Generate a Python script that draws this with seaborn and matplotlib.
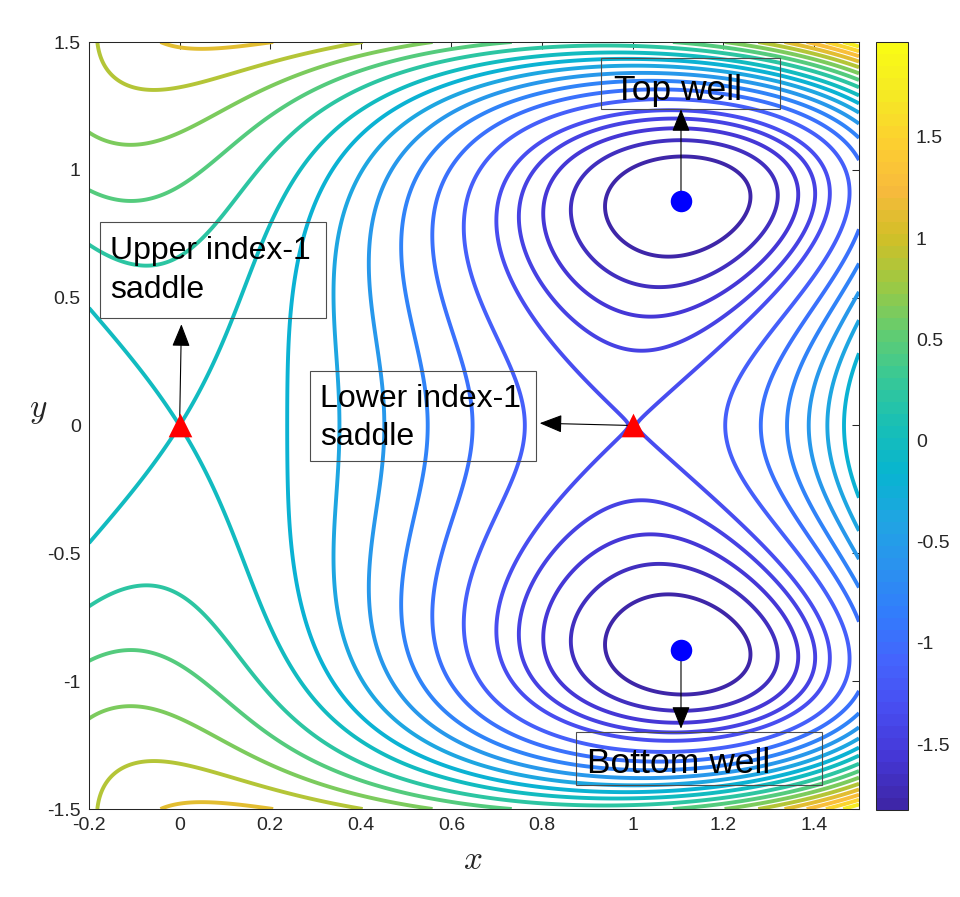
import numpy as np
import matplotlib
matplotlib.use("Agg")
import matplotlib.pyplot as plt
import seaborn as sns
from matplotlib.colors import LinearSegmentedColormap, Normalize
from matplotlib.cm import ScalarMappable
from matplotlib.patches import Rectangle
from matplotlib.ticker import FuncFormatter


# contour levels: finer spacing inside the wells,
# coarser between the saddles and above the upper saddle energy
WELL_LEVELS = [-1.825, -1.702, -1.579, -1.456]
MID_LEVELS = [-1.333, -1.143, -0.952, -0.762, -0.571, -0.381, -0.190]
HIGH_LEVELS = [0.0, 0.219, 0.438, 0.656, 0.875, 1.094, 1.313, 1.531, 1.750]

# critical points of the surface
SADDLE_X = [0.0, 1.0]
SADDLE_Y = [0.0, 0.0]
WELL_X = [1.107, 1.107]
WELL_Y = [0.879, -0.879]

X_TICKS = [-0.2, 0, 0.2, 0.4, 0.6, 0.8, 1, 1.2, 1.4]
Y_TICKS = [-1.5, -1, -0.5, 0, 0.5, 1, 1.5]
CBAR_TICKS = [-1.5, -1, -0.5, 0, 0.5, 1, 1.5]
CBAR_LIMITS = (-1.826, 1.969)

# parula (MATLAB) anchor colours, every 4th entry of the 64-colour table
PARULA = [
    (0.2422, 0.1504, 0.6603), (0.2706, 0.2147, 0.8364), (0.2813, 0.3006, 0.9414),
    (0.2699, 0.3892, 0.9906), (0.1963, 0.4847, 0.9892), (0.1687, 0.5703, 0.9359),
    (0.1248, 0.6459, 0.8883), (0.0297, 0.7082, 0.8163), (0.0964, 0.7500, 0.7120),
    (0.2161, 0.7843, 0.5923), (0.3909, 0.8029, 0.4354), (0.6174, 0.7876, 0.2612),
    (0.8203, 0.7498, 0.1535), (0.9728, 0.7298, 0.2394), (0.9892, 0.8136, 0.1885),
    (0.9597, 0.9135, 0.1423), (0.9769, 0.9839, 0.0805),
]

W, H = 960, 897


def potential(x, y):
    return 8 * x**3 / 3 - 4 * x**2 + y**2 / 2 + x * y**2 * (y**2 - 2)


def fig_xy(px, py):
    return px / W, 1 - py / H


def add_box(fig, left, top, right, bottom, lines, baselines, text_left, size):
    x0, y0 = fig_xy(left, bottom)
    x1, y1 = fig_xy(right, top)
    fig.add_artist(Rectangle((x0, y0), x1 - x0, y1 - y0, transform=fig.transFigure,
                             fill=False, edgecolor="0.3", linewidth=0.8, zorder=6))
    for line, base in zip(lines, baselines):
        tx, ty = fig_xy(text_left, base)
        fig.text(tx, ty, line, fontsize=size, va="baseline", ha="left",
                 color="black", zorder=7)


def main():
    sns.set_style("white")
    plt.rcParams["font.family"] = ["Liberation Sans", "DejaVu Sans"]
    plt.rcParams["mathtext.fontset"] = "cm"
    plt.rcParams["axes.unicode_minus"] = False

    cmap = LinearSegmentedColormap.from_list("parula", PARULA, N=64)
    norm = Normalize(*CBAR_LIMITS)

    xs = np.linspace(-0.2, 1.5, 700)
    ys = np.linspace(-1.5, 1.5, 1000)
    X, Y = np.meshgrid(xs, ys)
    Z = potential(X, Y)
    levels = WELL_LEVELS + MID_LEVELS + HIGH_LEVELS

    fig = plt.figure(figsize=(W / 100, H / 100), dpi=100)
    ax = fig.add_axes([89 / W, 1 - 809 / H, 770 / W, 767 / H])
    cax = fig.add_axes([876 / W, 1 - 810 / H, 31.5 / W, 768 / H])

    ax.contour(X, Y, Z, levels=levels, cmap=cmap, norm=norm, linewidths=2.8)

    sns.scatterplot(x=SADDLE_X, y=SADDLE_Y, marker="^", s=290, color="red",
                    linewidth=0, ax=ax, zorder=5, legend=False)
    sns.scatterplot(x=WELL_X, y=WELL_Y, marker="o", s=240, color="blue",
                    linewidth=0, ax=ax, zorder=5, legend=False)

    arrow = dict(arrowstyle="-|>,head_length=0.7,head_width=0.28", mutation_scale=20,
                 lw=0.8, color="black", shrinkA=0, shrinkB=0)
    ax.annotate("", xy=(0.004, 0.396), xytext=(0.0, 0.0), arrowprops=arrow, zorder=4)
    ax.annotate("", xy=(0.795, 0.009), xytext=(1.0, 0.0), arrowprops=arrow, zorder=4)
    ax.annotate("", xy=(1.107, 1.237), xytext=(1.107, 0.879), arrowprops=arrow, zorder=4)
    ax.annotate("", xy=(1.107, -1.186), xytext=(1.107, -0.879), arrowprops=arrow, zorder=4)

    ax.set_xlim(-0.2, 1.5)
    ax.set_ylim(-1.5, 1.5)
    fmt = FuncFormatter(lambda v, _: f"{v:g}")
    ax.set_xticks(X_TICKS)
    ax.set_yticks(Y_TICKS)
    ax.xaxis.set_major_formatter(fmt)
    ax.yaxis.set_major_formatter(fmt)
    ax.tick_params(direction="in", length=5, width=0.75, top=True, right=True,
                   labelsize=14, colors="0.15", pad=6)
    for spine in ax.spines.values():
        spine.set_visible(True)
        spine.set_color("0.15")
        spine.set_linewidth(0.75)

    fig.text(*fig_xy(473, 860), "$x$", fontsize=24, ha="center", va="center")
    fig.text(*fig_xy(38, 410), "$y$", fontsize=24, ha="center", va="center")

    cb = fig.colorbar(ScalarMappable(norm=norm, cmap=cmap), cax=cax)
    cb.set_ticks(CBAR_TICKS)
    cb.ax.yaxis.set_major_formatter(fmt)
    cb.ax.tick_params(direction="in", length=5, width=0.75, labelsize=14,
                      colors="0.15", pad=6)
    cb.outline.set_linewidth(0.75)
    cb.outline.set_edgecolor("0.15")

    add_box(fig, 601, 58, 780, 109, ["Top well"], [100], 614, 25.5)
    add_box(fig, 100, 222, 326, 318, ["Upper index-1", "saddle"], [259, 298], 110, 23)
    add_box(fig, 310, 371, 536, 461, ["Lower index-1", "saddle"], [407, 445], 320, 23)
    add_box(fig, 576, 732, 822, 785, ["Bottom well"], [773], 587, 25.5)

    fig.savefig("out.png", dpi=100)
    plt.close(fig)


if __name__ == "__main__":
    main()
